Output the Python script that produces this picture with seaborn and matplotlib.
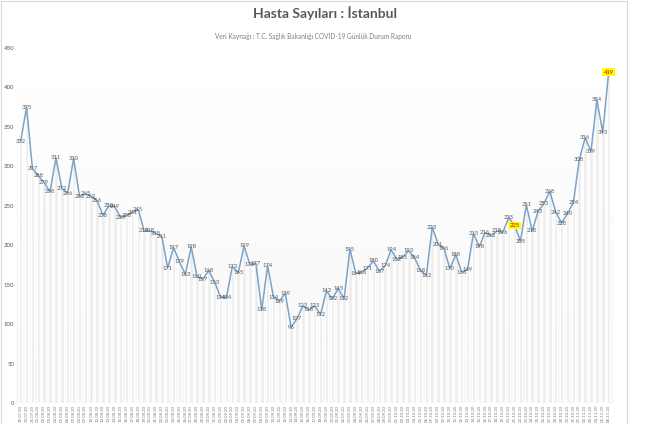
import numpy as np
import pandas as pd
import matplotlib
matplotlib.use("Agg")
import matplotlib.pyplot as plt
import seaborn as sns

title = "Hasta Sayıları : İstanbul"
subtitle = "Veri Kaynağı : T.C. Sağlık Bakanlığı COVID-19 Günlük Durum Raporu"

values = [332, 375, 297, 288, 279, 268, 311, 272, 266, 310,
          262, 265, 262, 256, 238, 250, 249, 235, 238, 241,
          245, 218, 218, 215, 211, 171, 197, 179, 163, 198,
          160, 157, 168, 153, 134, 134, 173, 165, 199, 175,
          177, 118, 174, 134, 129, 139, 96, 107, 123, 118,
          123, 112, 142, 132, 145, 132, 195, 164, 166, 171,
          180, 167, 174, 194, 182, 185, 193, 184, 168, 162,
          223, 201, 196, 170, 188, 166, 169, 215, 198, 216,
          212, 218, 216, 235, 225, 205, 251, 218, 243, 253,
          268, 242, 228, 240, 254, 308, 336, 319, 384, 343,
          419]
dates = pd.date_range("2020-07-29", periods=len(values), freq="D").strftime("%d.%m.%y").tolist()
highlight = [84, 100]
yticks = [0, 50, 100, 150, 200, 250, 300, 350, 400, 450]

df = pd.DataFrame({"tarih": dates, "hasta": values})

sns.set_theme(style="white")
plt.rcParams["font.family"] = ["Lato", "DejaVu Sans"]

fig = plt.figure(figsize=(6.7, 4.24), dpi=100)
ax = fig.add_axes([0.0243, 0.0495, 0.8907, 0.8375])

# soft background gradient: white at top, very light grey at bottom
grad = np.linspace(1.0, 0.965, 256).reshape(-1, 1)
ax.imshow(grad, extent=(-0.75, len(values) - 0.25, 0, 450), aspect="auto",
          cmap="gray", vmin=0, vmax=1, zorder=0)

sns.barplot(data=df, x="tarih", y="hasta", color="#ededed", saturation=1,
            width=0.6, ax=ax, zorder=1, errorbar=None)
sns.lineplot(x=np.arange(len(values)), y=df["hasta"], color="#7aa3c9",
             linewidth=1.1, ax=ax, zorder=3)

for i, v in enumerate(values):
    if i in highlight:
        ax.text(i, v, str(v), ha="center", va="center", fontsize=4.2,
                color="#c00000", zorder=5,
                bbox=dict(boxstyle="square,pad=0.25", fc="#ffff00", ec="none"))
    else:
        ax.text(i, v, str(v), ha="center", va="center", fontsize=4.2,
                color="#595959", zorder=5)

ax.set_xlim(-0.75, len(values) - 0.25)
ax.set_ylim(0, 450)
ax.set_yticks(yticks)
ax.set_yticklabels([str(t) for t in yticks], fontsize=4.3, color="#595959")
ax.set_xticks(np.arange(len(values)))
ax.set_xticklabels(dates, rotation=90, fontsize=3.2, color="#808080")
ax.tick_params(axis="both", length=0, pad=1.5)
ax.set_xlabel("")
ax.set_ylabel("")
for s in ax.spines.values():
    s.set_visible(False)
ax.grid(False)

fig.text(0.485, 0.987, title, ha="center", va="top", fontsize=10,
         fontweight="bold", color="#595959")
fig.text(0.467, 0.922, subtitle, ha="center", va="top", fontsize=4.7,
         color="#7f7f7f")

border = plt.Rectangle((0.001, 0.001), 0.935, 0.997, transform=fig.transFigure,
                       fill=False, ec="#d9d9d9", lw=0.8)
fig.add_artist(border)

fig.savefig("out.png", dpi=100, facecolor="white")
